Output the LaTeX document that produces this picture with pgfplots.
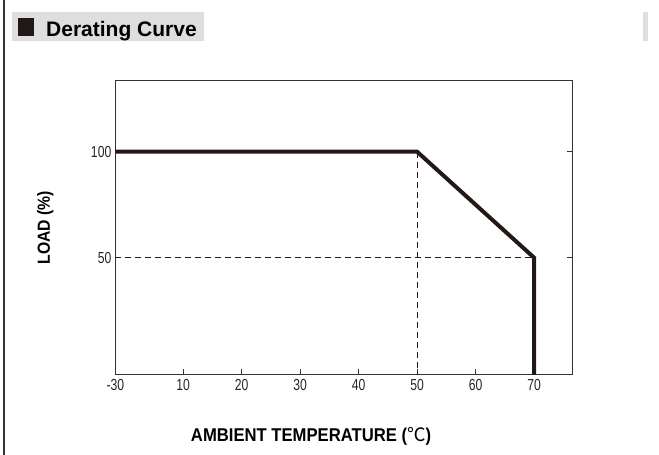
\documentclass[border=0pt]{standalone}
\usepackage{pgfplots}
\pgfplotsset{compat=1.18}
\usepackage{fontspec}
\setmainfont{Liberation Sans}
\newfontfamily\narrowfont{Liberation Sans}[FakeStretch=0.76]
\newfontfamily\labelfont{Liberation Sans}[FakeStretch=0.9]
\newfontfamily\cjk{Noto Sans CJK SC}
\definecolor{ink}{HTML}{231815}
\definecolor{frame}{HTML}{333333}
\begin{document}
\begin{tikzpicture}[x=1bp,y=1bp]
\path[use as bounding box] (0bp,0bp) rectangle (659bp,-455bp);
% left page rule
\draw[line width=1.2bp,black!80] (4bp,0bp) -- (4bp,-455bp);
% title
\fill[black!13] (12bp,-12bp) rectangle (204bp,-41bp);
\fill[ink] (18bp,-18bp) rectangle (34bp,-36bp);
\node[anchor=base west,inner sep=0pt] at (46bp,-36.7bp) {\fontsize{21bp}{24bp}\selectfont\bfseries Derating Curve};
% neighbouring chart fragment
\fill[black!13] (643bp,-12bp) rectangle (648bp,-41bp);
\begin{axis}[
  at={(115.3bp,-374.7bp)}, anchor=south west,
  scale only axis, width=457.4bp, height=294.4bp,
  x coord trafo/.code={\pgfmathparse{ifthenelse(#1<10,10+(#1-10)*0.2905,#1)}},
  xmin=-30, xmax=76.6, ymin=-5.2, ymax=133.7,
  axis line style={frame, line width=1.1bp},
  tick style={frame, line width=0.9bp},
  tick align=inside, major tick length=6bp,
  xtick={10,20,30,40,50,60,70},
  xticklabels={10,20,30,40,50,60,70},
  extra x ticks={-30}, extra x tick labels={-30},
  extra x tick style={major tick length=0pt},
  xtick pos=bottom,
  ytick={50,100}, yticklabels={50,100},
  ytick pos=both,
  ticklabel style={font=\fontsize{16bp}{18bp}\selectfont\narrowfont, text=black!85},
  xticklabel style={yshift=-1bp},
  yticklabel style={xshift=-0.5bp},
  xlabel={\fontsize{18.5bp}{21bp}\selectfont\labelfont\bfseries AMBIENT TEMPERATURE ({\cjk\mdseries ℃})},
  xlabel style={at={(axis description cs:0.428,-0.21)}, anchor=center},
  ylabel={\fontsize{17.5bp}{20bp}\selectfont\labelfont\bfseries LOAD (\%)},
  ylabel style={at={(axis description cs:-0.153,0.5)}, anchor=center, rotate=0},
  clip=true,
]
\addplot[ink, line width=0.9bp, dash pattern=on 6bp off 4bp] coordinates {(50,100) (50,-10)};
\addplot[ink, line width=0.9bp, dash pattern=on 6bp off 4bp] coordinates {(-30,50) (70,50)};
\addplot[ink, line width=4bp, line join=miter] coordinates {(-30,100) (50,100) (70,50) (70,-10)};
\end{axis}
\end{tikzpicture}
\end{document}
